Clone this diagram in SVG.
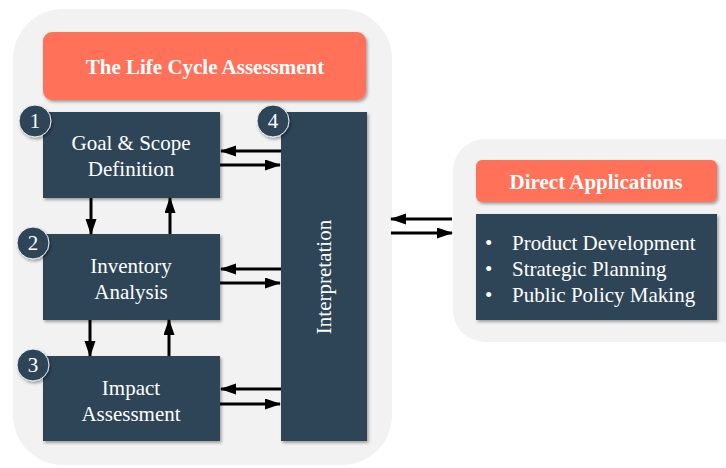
<svg xmlns="http://www.w3.org/2000/svg" width="726" height="468" viewBox="0 0 726 468">
<defs>
<style>
.cont{fill:#f2f2f2}
.box{fill:#2f4558;filter:url(#sh)}
.hdr{fill:#ff7159;filter:url(#sh)}
.t{font-family:"Liberation Serif","Times New Roman",serif;font-size:21px;fill:#fff;text-anchor:middle}
.b{font-weight:bold}
.l{text-anchor:start}
.num{fill:#2f4558;stroke:#eef1f4;stroke-width:1;filter:url(#sh)}
.a{stroke:#000;stroke-width:3;fill:none;marker-end:url(#ah)}
</style>
<filter id="sh" x="-10%" y="-10%" width="130%" height="130%">
<feDropShadow dx="1.5" dy="2" stdDeviation="1.5" flood-color="#000" flood-opacity="0.35"/>
</filter>
<marker id="ah" markerUnits="userSpaceOnUse" markerWidth="16" markerHeight="12" refX="15" refY="5.5" orient="auto">
<path d="M0,0 L16,5.5 L0,11 z" fill="#000"/>
</marker>
</defs>
<rect class="cont" x="13" y="9" width="379" height="456" rx="50"/>
<rect class="cont" x="453" y="139" width="310" height="203" rx="32"/>
<g id="title">
<rect class="hdr" x="43" y="32" width="323" height="68" rx="9"/>
<text class="t b" x="205" y="74">The Life Cycle Assessment</text>
</g>
<g id="goal">
<rect class="box" x="43" y="112" width="177" height="86"/>
<text class="t" x="131" y="150">Goal &amp; Scope</text>
<text class="t" x="131" y="176">Definition</text>
<circle class="num" cx="35" cy="121" r="16"/>
<text class="t" x="35" y="128">1</text>
</g>
<g id="inventory">
<rect class="box" x="43" y="234" width="177" height="86"/>
<text class="t" x="131" y="273">Inventory</text>
<text class="t" x="131" y="299">Analysis</text>
<circle class="num" cx="33" cy="243" r="16"/>
<text class="t" x="33" y="250">2</text>
</g>
<g id="impact">
<rect class="box" x="43" y="356" width="177" height="85"/>
<text class="t" x="131" y="395">Impact</text>
<text class="t" x="131" y="421">Assessment</text>
<circle class="num" cx="33" cy="365" r="16"/>
<text class="t" x="33" y="372">3</text>
</g>
<g id="interpretation">
<rect class="box" x="281" y="112" width="86" height="329"/>
<text class="t" transform="translate(331,277) rotate(-90)">Interpretation</text>
<circle class="num" cx="273" cy="121" r="16"/>
<text class="t" x="273" y="128">4</text>
</g>
<g id="applications">
<rect class="hdr" x="476" y="160" width="241" height="42" rx="6"/>
<text class="t b" x="596" y="189">Direct Applications</text>
<rect class="box" x="476" y="214" width="241" height="106"/>
<text class="t l" x="485" y="250">•</text>
<text class="t l" x="485" y="276">•</text>
<text class="t l" x="485" y="302">•</text>
<text class="t l" x="512" y="250">Product Development</text>
<text class="t l" x="512" y="276">Strategic Planning</text>
<text class="t l" x="512" y="302">Public Policy Making</text>
</g>
<g id="connectors">
<line class="a" x1="91" y1="198" x2="91" y2="234"/>
<line class="a" x1="170" y1="234" x2="170" y2="198"/>
<line class="a" x1="90" y1="320" x2="90" y2="356"/>
<line class="a" x1="169" y1="356" x2="169" y2="320"/>
<line class="a" x1="281" y1="151" x2="221" y2="151"/>
<line class="a" x1="220" y1="165" x2="280" y2="165"/>
<line class="a" x1="281" y1="269" x2="221" y2="269"/>
<line class="a" x1="220" y1="283" x2="280" y2="283"/>
<line class="a" x1="281" y1="389" x2="221" y2="389"/>
<line class="a" x1="220" y1="404" x2="280" y2="404"/>
<line class="a" x1="452" y1="219" x2="391" y2="219"/>
<line class="a" x1="391" y1="233" x2="452" y2="233"/>
</g>
</svg>
